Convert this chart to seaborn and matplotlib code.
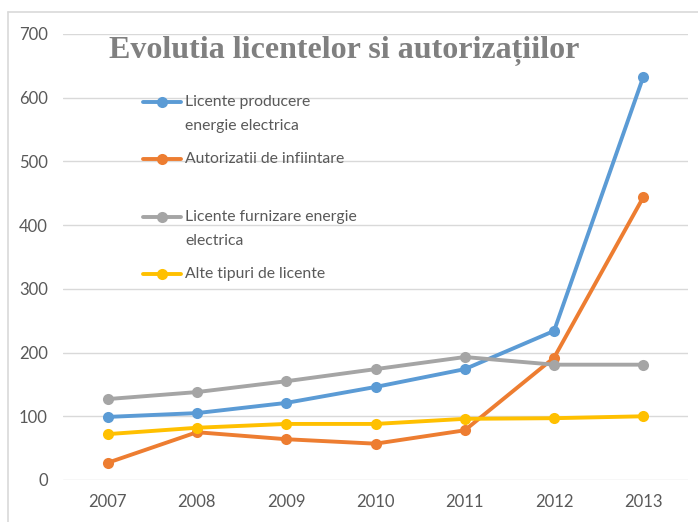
import numpy as np
import pandas as pd
import matplotlib
matplotlib.use("Agg")
import matplotlib.pyplot as plt
import seaborn as sns
from matplotlib.lines import Line2D
from matplotlib.legend_handler import HandlerLine2D

# data
years = ["2007", "2008", "2009", "2010", "2011", "2012", "2013"]
licente_producere = [99, 105, 121, 146, 174, 234, 633]
autorizatii_infiintare = [27, 75, 64, 57, 78, 192, 444]
licente_furnizare = [127, 138, 155, 174, 193, 181, 181]
alte_licente = [72, 82, 88, 88, 96, 97, 100]

series_names = [
    "Licente producere\nenergie electrica",
    "Autorizatii de infiintare",
    "Licente furnizare energie\nelectrica",
    "Alte tipuri de licente",
]
series_values = [licente_producere, autorizatii_infiintare, licente_furnizare, alte_licente]
colors = ["#5B9BD5", "#ED7D31", "#A5A5A5", "#FFC000"]

rows = []
for name, vals in zip(series_names, series_values):
    for y, v in zip(years, vals):
        rows.append({"year": y, "value": v, "series": name})
df = pd.DataFrame(rows)


class FirstLineHandler(HandlerLine2D):
    # put the legend marker on the first line of a two-line label
    def __init__(self, shift, **kw):
        super().__init__(**kw)
        self.shift = shift

    def create_artists(self, *args, **kwargs):
        arts = super().create_artists(*args, **kwargs)
        for a in arts:
            a.set_ydata(np.asarray(a.get_ydata(), dtype=float) + self.shift)
        return arts


sns.set_style("white")
plt.rcParams["font.family"] = ["Lato", "DejaVu Sans"]

fig = plt.figure(figsize=(6.98, 5.22), dpi=100)
ax = fig.add_axes([63 / 698, 1 - 480 / 522, 625 / 698, (480 - 34) / 522])

sns.lineplot(data=df, x="year", y="value", hue="series", palette=colors,
             marker="o", markersize=8, markeredgewidth=0, linewidth=2.8,
             sort=False, ax=ax)

ax.set_xlim(-0.5, 6.5)
ax.set_ylim(0, 700)
ax.set_yticks(range(0, 701, 100))
ax.yaxis.grid(True, color="#D9D9D9", linewidth=1)
ax.set_axisbelow(True)
for s in ax.spines.values():
    s.set_visible(False)
ax.set_xlabel("")
ax.set_ylabel("")
ax.tick_params(axis="both", length=0, labelsize=12, labelcolor="#595959")
ax.tick_params(axis="y", pad=11)
ax.tick_params(axis="x", pad=10)

handles, labels = ax.get_legend_handles_labels()
labels = [lab if "\n" in lab else lab + "\n" for lab in labels]
hmap = {h: FirstLineHandler(8.64) for h in handles}
leg = ax.legend(handles, labels, loc="upper left", bbox_to_anchor=(0.106, 0.895),
                frameon=False, fontsize=11.3, handlelength=2.4,
                handletextpad=0.25, labelspacing=1.2, labelcolor="#595959",
                handler_map=hmap)
for t in leg.get_texts():
    t.set_linespacing(1.95)

fig.text(344 / 698, 1 - 58 / 522, "Evolutia licentelor si autorizațiilor",
         family="Liberation Serif", fontweight="bold", fontsize=23,
         color="#808080", ha="center", va="baseline")

# chart area border (top and left edges only are visible)
fig.add_artist(Line2D([8 / 698, 1], [1 - 12 / 522, 1 - 12 / 522],
                      transform=fig.transFigure, color="#D9D9D9", linewidth=1.2))
fig.add_artist(Line2D([8 / 698, 8 / 698], [0, 1 - 12 / 522],
                      transform=fig.transFigure, color="#D9D9D9", linewidth=1.2))

fig.savefig("out.png", dpi=100)
